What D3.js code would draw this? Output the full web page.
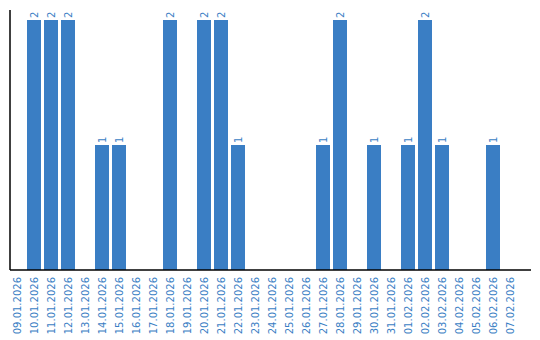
<!DOCTYPE html>
<html>
<head>
<meta charset="utf-8">
<script src="https://cdn.jsdelivr.net/npm/d3@7"></script>
<style>
    body { margin: 0; background: #fff; }
    text { font-family: 'DejaVu Sans', sans-serif; font-size: 10px; fill: #3a7ec4; }
</style>
</head>
<body>
<svg id="chart" width="540" height="340"></svg>
<script>
const dates = [
    '09.01.2026', '10.01.2026', '11.01.2026', '12.01.2026', '13.01.2026',
    '14.01.2026', '15.01.2026', '16.01.2026', '17.01.2026', '18.01.2026',
    '19.01.2026', '20.01.2026', '21.01.2026', '22.01.2026', '23.01.2026',
    '24.01.2026', '25.01.2026', '26.01.2026', '27.01.2026', '28.01.2026',
    '29.01.2026', '30.01.2026', '31.01.2026', '01.02.2026', '02.02.2026',
    '03.02.2026', '04.02.2026', '05.02.2026', '06.02.2026', '07.02.2026'
];
const counts = [
    0, 2, 2, 2, 0, 1, 1, 0, 0, 2,
    0, 2, 2, 1, 0, 0, 0, 0, 1, 2,
    0, 1, 0, 1, 2, 1, 0, 0, 1, 0
];

const barColor = '#3a7ec4';
const left = 10;
const axisBottom = 270;
const axisRight = 531;

const data = dates.map((d, i) => ({ date: d, value: counts[i] }));

const svg = d3.select('#chart');

const x = d3.scaleBand()
    .domain(dates)
    .range([left, 517])
    .paddingInner(3 / 17)
    .paddingOuter(0)
    .align(0);

const y = d3.scaleLinear()
    .domain([0, d3.max(counts)])
    .range([axisBottom, 20]);

// bars
svg.append('g')
    .selectAll('rect')
    .data(data.filter((d) => d.value > 0))
    .enter()
    .append('rect')
    .attr('x', (d) => x(d.date))
    .attr('y', (d) => y(d.value))
    .attr('width', x.bandwidth())
    .attr('height', (d) => axisBottom - y(d.value))
    .attr('fill', barColor);

// value labels above bars
svg.append('g')
    .selectAll('text')
    .data(data.filter((d) => d.value > 0))
    .enter()
    .append('text')
    .attr('transform', (d) => `translate(${x(d.date) + x.bandwidth() / 2},${y(d.value) - 2}) rotate(-90)`)
    .attr('dy', '0.35em')
    .attr('text-anchor', 'start')
    .text((d) => d.value);

// date labels
svg.append('g')
    .selectAll('text')
    .data(dates)
    .enter()
    .append('text')
    .attr('transform', (d) => `translate(${x(d) + x.bandwidth() / 2},${axisBottom + 7}) rotate(-90)`)
    .attr('dy', '0.35em')
    .attr('text-anchor', 'end')
    .text((d) => d);

// axes lines
svg.append('line')
    .attr('x1', left).attr('x2', left)
    .attr('y1', 10).attr('y2', axisBottom)
    .attr('stroke', '#000')
    .attr('stroke-width', 1.5);

svg.append('line')
    .attr('x1', left).attr('x2', axisRight)
    .attr('y1', axisBottom).attr('y2', axisBottom)
    .attr('stroke', '#000')
    .attr('stroke-width', 1.5);
</script>
</body>
</html>
